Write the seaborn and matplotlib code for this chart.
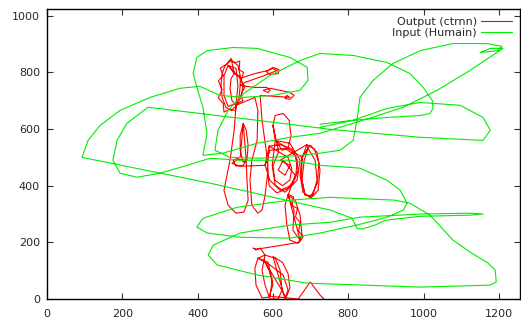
import pandas as pd
import seaborn as sns
import matplotlib.pyplot as plt

# Input (Humain) trajectory
green_x = [725, 813, 903, 991, 1017, 1025, 1023, 999, 964, 903, 813, 725, 672, 592, 526, 481, 454, 446,
           486, 566, 672, 725,
           778, 813, 823, 831, 866, 919, 991, 1078, 1169, 1208, 1198, 1150, 1177, 1211,
           1123, 1036, 946, 839, 725, 645, 558, 467, 414,
           420, 425, 414, 398, 388, 398, 425, 494, 558, 645, 691, 693, 672, 600, 521, 459, 406, 353, 274, 194, 141, 109, 93,
           433, 752, 810, 823, 837, 871, 898, 991, 1123, 1158, 1123, 991, 831, 752, 645, 513, 441, 428, 452, 558, 691, 752,
           991, 1177, 1193, 1190, 1171, 1123, 1078, 1017, 964, 924, 752, 645, 505, 414, 398, 425, 513, 645, 725, 823, 903,
           946, 956, 938, 903, 831, 725, 645, 513, 433, 372, 300, 239, 194, 175, 186, 212, 268,
           425, 558, 752, 991, 1158, 1177, 1158, 1097, 991, 903, 813, 725]
green_y = [617, 631, 641, 648, 655, 673, 701, 747, 796, 835, 860, 867, 842, 789, 729, 666, 596, 525,
           500, 497, 507, 515,
           525, 560, 631, 712, 772, 832, 877, 902, 902, 892, 877, 870, 885, 885,
           807, 737, 677, 631, 585, 571, 550, 515, 507,
           550, 585, 677, 747, 796, 853, 877, 888, 885, 853, 818, 772, 737, 719, 712, 719, 751, 744, 712, 666, 613, 560, 500,
           409, 314, 285, 250, 247, 261, 278, 292, 296, 300, 303, 300, 289, 271, 261, 233, 190, 155, 120, 85, 56, 53,
           42, 49, 60, 102, 127, 166, 208, 296, 338, 349, 359, 349, 324, 285, 254, 233, 218, 215, 233, 261, 289,
           314, 338, 384, 419, 462, 472, 490, 490, 497, 472, 444, 430, 444, 490, 560, 620, 677,
           652, 631, 599, 571, 560, 596, 641, 684, 694, 673, 631, 606]

# Output (ctrnn) trajectory
red_x = [489, 507, 513, 513, 510, 499, 489, 475, 465, 462, 465, 473, 489,
         500, 512, 510, 522, 515, 525, 515, 520, 505, 500, 485, 470, 468, 455, 465, 455, 468, 460, 478, 489,
         497, 513, 521, 515, 502, 491, 486, 489, 497,
         481, 502, 507, 502, 481, 470, 470, 481,
         513, 552, 587, 600, 616, 614, 592, 582, 598, 611, 571, 526, 513,
         552, 584, 592, 587, 574, 592, 619, 645, 656, 645, 632, 637, 645,
         566, 571, 582, 587, 579, 571, 560, 544, 539, 544, 558, 560, 552,
         502, 497, 486, 470, 481, 502, 523, 534, 531, 529,
         521, 529, 534, 531, 521, 513, 513, 521,
         513, 494, 502, 521, 529, 507, 491, 513,
         579, 592, 632, 659, 667, 651, 619, 592, 579,
         590, 620, 650, 665, 660, 640, 610, 590, 585, 590,
         615, 640, 650, 645, 625, 605, 600, 615,
         600, 606, 627, 643, 648, 640, 624, 608, 600,
         606, 645, 672, 664, 632, 606, 598, 606,
         677, 699, 717, 725, 720, 701, 680, 672, 677, 693, 712, 717, 706, 685, 677, 683, 693,
         690, 710, 722, 718, 700, 685, 675, 678, 690,
         619, 645, 632, 614, 627, 659, 645,
         640, 659, 672, 677, 667, 645, 637, 632, 640, 656, 653, 672,
         640, 655, 650, 665, 660, 672, 668, 680, 670,
         558, 547, 555, 566, 579,
         606, 619, 624, 614, 592, 579, 571, 579, 560, 587, 598, 592, 571, 555, 552, 560,
         592, 627, 640, 632,
         600, 625, 640, 645, 635, 575, 590, 600, 590,
         667, 699, 725, 738]
red_y = [842, 825, 789, 754, 712, 677, 666, 677, 712, 754, 796, 825, 842,
         835, 840, 810, 800, 770, 750, 720, 700, 690, 665, 670, 660, 690, 710, 740, 770, 790, 815, 830, 850,
         796, 786, 754, 712, 684, 701, 744, 779, 796,
         825, 814, 754, 691, 680, 719, 789, 825,
         779, 796, 807, 818, 810, 796, 793, 803, 814, 807, 786, 765, 754,
         747, 747, 737, 729, 737, 744, 737, 729, 719, 705, 708, 719, 712,
         719, 631, 525, 455, 366, 314, 303, 331, 419, 490, 560, 666, 712,
         684, 596, 490, 384, 331, 303, 307, 349, 419, 490,
         620, 596, 543, 490, 483, 525, 578, 620,
         500, 490, 469, 472, 490, 493, 479, 469,
         472, 525, 532, 507, 455, 402, 384, 419, 472,
         540, 545, 530, 490, 430, 390, 375, 400, 460, 540,
         520, 500, 460, 420, 400, 420, 470, 520,
         613, 648, 655, 631, 578, 532, 525, 560, 613,
         560, 550, 490, 419, 377, 402, 472, 560,
         500, 543, 518, 455, 384, 356, 377, 437, 500, 532, 490, 419, 366, 366, 419, 490, 532,
         545, 530, 480, 410, 360, 370, 430, 500, 545,
         490, 472, 437, 455, 490, 437, 384,
         366, 349, 296, 226, 197, 208, 261, 331, 366, 314, 243, 208,
         370, 360, 330, 320, 290, 270, 240, 220, 200,
         176, 180, 173, 180, 155,
         144, 102, 32, 0, 0, 49, 102, 155, 144, 130, 67, 7, 4, 49, 109, 144,
         120, 85, 32, 0,
         150, 130, 90, 40, 5, 140, 100, 50, 10,
         0, 60, 14, -4]

series_names = ['Output (ctrnn)', 'Input (Humain)']
series_colors = ['#ff0000', '#00ee00']

df = pd.concat([
    pd.DataFrame({'x': red_x, 'y': red_y, 'series': series_names[0]}),
    pd.DataFrame({'x': green_x, 'y': green_y, 'series': series_names[1]}),
], ignore_index=True)

sns.set_style('ticks')
plt.rcParams['font.family'] = ['DejaVu Sans']

fig = plt.figure(figsize=(5.21, 3.22), dpi=100)
ax = fig.add_axes([47 / 521, 23 / 322, 473 / 521, 290 / 322])

sns.lineplot(data=df, x='x', y='y', hue='series', hue_order=series_names,
             palette=series_colors, sort=False, estimator=None, lw=0.8, ax=ax)

ax.set_xlim(0, 1256)
ax.set_ylim(0, 1024)
ax.set_xticks(range(0, 1201, 200))
ax.set_yticks(range(0, 1001, 200))
ax.set_xlabel('')
ax.set_ylabel('')
ax.tick_params(direction='in', top=True, right=True, labelsize=8, length=4, color='#333333')
ax.tick_params(axis='x', pad=7)
ax.tick_params(axis='y', pad=5)
for s in ax.spines.values():
    s.set_linewidth(1.0)
    s.set_color('black')

handles, labels = ax.get_legend_handles_labels()
ax.legend(handles, labels, loc='upper right', frameon=False, markerfirst=False,
          fontsize=8, handlelength=2.8, borderaxespad=0.3, labelspacing=0.1,
          handletextpad=0.4)

fig.savefig('out.png', dpi=100)
